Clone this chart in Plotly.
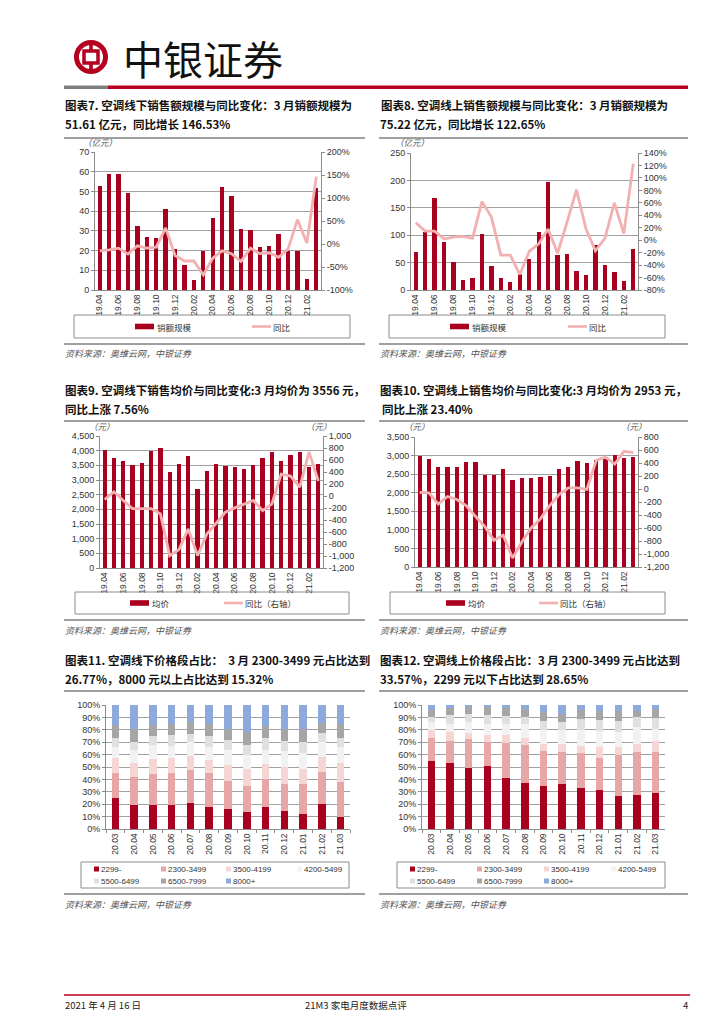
import plotly.graph_objects as go

W, H = 724, 1024
RED = "#a8001e"
PINK = "#f2b0b0"
GRID = "#a0a0a0"
AXIS = "#8c8c8c"
TXT = "#333333"
CJK = "Noto Sans CJK SC"
LAT = "Liberation Sans"

# ---------------- data ----------------
months24 = ["19.04", "19.05", "19.06", "19.07", "19.08", "19.09", "19.10", "19.11", "19.12",
            "20.01", "20.02", "20.03", "20.04", "20.05", "20.06", "20.07", "20.08", "20.09",
            "20.10", "20.11", "20.12", "21.01", "21.02", "21.03"]
months13 = ["20.03", "20.04", "20.05", "20.06", "20.07", "20.08", "20.09", "20.10", "20.11",
            "20.12", "21.01", "21.02", "21.03"]

offline_sales = [52.6, 58.7, 58.7, 49.1, 32.4, 26.8, 26.3, 40.9, 20.7, 12.7, 5.3, 20.0,
                 36.5, 52.1, 47.7, 31.1, 30.2, 21.9, 22.1, 28.5, 19.7, 19.9, 5.8, 51.61]
offline_sales_yoy = [-15, -13, -9, -22, -4, -9, -7, 35, -25, -37, -37, -67,
                     -31, -15, -21, -38, -9, -21, -19, -29, -11, 53, 2, 146.53]

online_sales = [70, 105, 167, 88, 51, 19, 22.5, 103, 44, 21, 15, 29,
                57, 105, 198, 64, 65, 34, 27, 82, 45, 33, 16.5, 75.22]
online_sales_yoy = [28, 14.5, 14.5, 2, 5, 6, 3, 62, 37, -24, -24, -55,
                    -18, -6, 18, -21, 29, 81, 18, -17, 3, 60, 10.5, 122.65]

offline_price = [4020, 3750, 3650, 3510, 3570, 3980, 4080, 3280, 3530, 3820, 2710, 3310,
                 3550, 3480, 3460, 3370, 3500, 3740, 3940, 3650, 3840, 3940, 3440, 3556]
offline_price_yoy = [-58, 70, -75, -209, -209, -209, -298, -994, -894, -549, -994, -632,
                     -454, -270, -198, -142, -75, -242, -131, 365, 331, 148, 733, 250]

online_price = [3000, 2910, 2700, 2700, 2690, 2820, 2820, 2470, 2470, 2640, 2355, 2400,
                2400, 2435, 2460, 2630, 2700, 2845, 2810, 2875, 2910, 3020, 2930, 2953]
online_price_yoy = [-53, -59, -233, -115, -161, -254, -419, -573, -789, -712, -1062, -815,
                    -599, -460, -254, -85, 18, 18, -7, 440, 491, 383, 579, 560]

segments = ["2299-", "2300-3499", "3500-4199", "4200-5499", "5500-6499", "6500-7999", "8000+"]
seg_colors = ["#a8001e", "#e8a7a7", "#f6d5d5", "#f2f2f2", "#e0e0e0", "#a6a6a6", "#8eaadc"]

off_2299 = [25, 19.5, 19, 19.5, 21, 18, 16, 13.5, 18, 14.5, 12.5, 20.5, 9.7]
off_2300 = [20, 22.5, 25.5, 26, 26.5, 27, 23, 21.5, 22, 22, 24, 25.5, 28]
off_3500 = [12, 11.5, 12, 11.5, 11, 10.5, 13, 13.5, 12.5, 13.5, 12, 12, 15.8]
off_4200 = [9, 10.5, 11.5, 10, 11.5, 10.5, 12, 11.5, 11.5, 13, 12.5, 12, 12.5]
off_5500 = [7, 6.5, 7, 8.5, 7, 9, 7.5, 8, 9, 8, 9, 7.5, 7.5]
off_6500 = [10.5, 10.5, 9, 9, 9, 10, 9.5, 10.5, 10, 10, 11, 8, 11.2]
off_8000 = [16.5, 19, 16, 15.5, 14, 15, 19, 21.5, 17, 19, 19, 14.5, 15.32]

on_2299 = [55, 53.5, 49.5, 50.5, 41.5, 37.5, 34.5, 36.5, 33, 31.5, 27, 27.5, 28.65]
on_2300 = [18.5, 17.5, 23, 20, 27.5, 30.5, 28.5, 25.5, 28, 26, 33, 34.5, 33.57]
on_3500 = [6, 7, 5, 5, 6.5, 5.5, 5.5, 6.5, 6, 8.5, 6.5, 6.5, 8.8]
on_4200 = [6.5, 7, 8.5, 9.5, 9.5, 11, 11.5, 11.5, 13, 13, 12, 13.5, 10]
on_5500 = [4.5, 7, 6.5, 7, 6, 6, 7, 6, 8.5, 9, 9, 8, 8.5]
on_6500 = [5.5, 5.5, 5.5, 6.5, 6.5, 6, 7, 7, 7.5, 7.5, 7.5, 5.5, 7]
on_8000 = [4, 2.5, 2, 1.5, 2.5, 3.5, 6, 7, 4, 4.5, 5, 4.5, 3.5]

# tick labels
c7_left = [0, 10, 20, 30, 40, 50, 60, 70]
c7_right = [-100, -50, 0, 50, 100, 150, 200]
c7_right_text = ["-100%", "-50%", "0%", "50%", "100%", "150%", "200%"]
c8_left = [0, 50, 100, 150, 200, 250]
c8_right = [-80, -60, -40, -20, 0, 20, 40, 60, 80, 100, 120, 140]
c8_right_text = ["-80%", "-60%", "-40%", "-20%", "0%", "20%", "40%", "60%", "80%", "100%", "120%", "140%"]
c9_left = [0, 500, 1000, 1500, 2000, 2500, 3000, 3500, 4000, 4500]
c9_left_text = ["0", "500", "1,000", "1,500", "2,000", "2,500", "3,000", "3,500", "4,000", "4,500"]
c9_right = [-1200, -1000, -800, -600, -400, -200, 0, 200, 400, 600, 800, 1000]
c9_right_text = ["-1,200", "-1,000", "-800", "-600", "-400", "-200", "0", "200", "400", "600", "800", "1,000"]
c10_left = [0, 500, 1000, 1500, 2000, 2500, 3000, 3500]
c10_left_text = ["0", "500", "1,000", "1,500", "2,000", "2,500", "3,000", "3,500"]
c10_right = [-1200, -1000, -800, -600, -400, -200, 0, 200, 400, 600, 800]
c10_right_text = ["-1,200", "-1,000", "-800", "-600", "-400", "-200", "0", "200", "400", "600", "800"]
pct_ticks = [0, 10, 20, 30, 40, 50, 60, 70, 80, 90, 100]
pct_text = ["0%", "10%", "20%", "30%", "40%", "50%", "60%", "70%", "80%", "90%", "100%"]

# ---------------- helpers ----------------
fig = go.Figure()
layout = {}


def dx(a, b):
    return [a / W, b / W]


def dy(top, bot):
    return [1 - bot / H, 1 - top / H]


def key(prefix, n):
    return prefix if n == 1 else f"{prefix}{n}"


tickfont = dict(family=LAT, size=9, color=TXT)


def combo(n, bars, line, xr, yr, lt, ltxt, lrange, rt, rtxt, rrange, bname, lname):
    xa = key("x", n)
    yl = key("y", 2 * n - 1)
    yrr = key("y", 2 * n)
    fig.add_trace(go.Bar(x=months24, y=bars, xaxis=xa, yaxis=yl, name=bname,
                         marker=dict(color=RED, line=dict(width=0)), width=0.46))
    fig.add_trace(go.Scatter(x=months24, y=line, xaxis=xa, yaxis=yrr, name=lname,
                             mode="lines", line=dict(color=PINK, width=2.8)))
    layout[key("xaxis", n)] = dict(domain=dx(*xr), anchor=yl, type="category",
                                   range=[-0.5, 23.5], tickmode="array",
                                   tickvals=months24[::2], ticktext=months24[::2],
                                   tickangle=-90, tickfont=dict(family=LAT, size=8.5, color=TXT),
                                   showline=True, linecolor=AXIS, linewidth=1,
                                   showgrid=False, ticks="", automargin=False, fixedrange=True)
    layout[key("yaxis", 2 * n - 1)] = dict(domain=dy(*yr), anchor=xa, range=lrange,
                                           tickmode="array", tickvals=lt, ticktext=ltxt,
                                           showgrid=True, gridcolor=GRID, gridwidth=0.8,
                                           showline=True, linecolor=AXIS, linewidth=1,
                                           ticks="outside", ticklen=3, tickcolor=AXIS,
                                           tickfont=tickfont, zeroline=False,
                                           automargin=False, fixedrange=True)
    layout[key("yaxis", 2 * n)] = dict(overlaying=yl, anchor=xa, side="right", range=rrange,
                                       tickmode="array", tickvals=rt, ticktext=rtxt,
                                       showgrid=False, showline=True, linecolor=AXIS,
                                       linewidth=1, ticks="outside", ticklen=3,
                                       tickcolor=AXIS, tickfont=tickfont, zeroline=False,
                                       automargin=False, fixedrange=True)


def stacked(n, yidx, series, xr, yr):
    xa = key("x", n)
    ya = key("y", yidx)
    for name, vals, col in zip(segments, series, seg_colors):
        fig.add_trace(go.Bar(x=months13, y=vals, xaxis=xa, yaxis=ya, name=name,
                             marker=dict(color=col, line=dict(width=0)), width=0.4))
    layout[key("xaxis", n)] = dict(domain=dx(*xr), anchor=ya, type="category",
                                   range=[-0.5, 12.5], tickangle=-90,
                                   tickfont=dict(family=LAT, size=8.5, color=TXT),
                                   showline=True, linecolor=AXIS, linewidth=1,
                                   ticks="outside", tickson="boundaries", ticklen=3,
                                   tickcolor=AXIS, showgrid=False,
                                   automargin=False, fixedrange=True)
    layout[key("yaxis", yidx)] = dict(domain=dy(*yr), anchor=xa, range=[0, 100],
                                      tickmode="array", tickvals=pct_ticks, ticktext=pct_text,
                                      showgrid=True, gridcolor=GRID, gridwidth=0.8,
                                      showline=True, linecolor=AXIS, linewidth=1,
                                      ticks="outside", ticklen=3, tickcolor=AXIS,
                                      tickfont=tickfont, zeroline=False,
                                      automargin=False, fixedrange=True)


def rect(x0, y0, x1, y1, fill=None, line=None, lw=0):
    fig.add_shape(type="rect", xref="paper", yref="paper", x0=x0 / W, x1=x1 / W,
                  y0=1 - y1 / H, y1=1 - y0 / H, fillcolor=fill,
                  line=dict(color=line if line else "rgba(0,0,0,0)", width=lw), layer="above")


def hline(x0, x1, y, color, w):
    fig.add_shape(type="line", xref="paper", yref="paper", x0=x0 / W, x1=x1 / W,
                  y0=1 - y / H, y1=1 - y / H, line=dict(color=color, width=w), layer="above")


def text(x, y, s, size, color=TXT, xanchor="left", bold=False, italic=False, family=CJK):
    fig.add_annotation(x=x / W, y=1 - y / H, xref="paper", yref="paper", text=s,
                       showarrow=False, xanchor=xanchor, yanchor="middle", borderpad=0,
                       font=dict(family=family, size=size, color=color,
                                 weight="bold" if bold else "normal",
                                 style="italic" if italic else "normal"))


# ---------------- charts ----------------
combo(1, offline_sales, offline_sales_yoy, (87, 313), (144, 282), c7_left,
      [str(v) for v in c7_left], [0, 70], c7_right, c7_right_text, [-100, 200], "销额规模", "同比")
combo(2, online_sales, online_sales_yoy, (403, 630), (145, 282), c8_left,
      [str(v) for v in c8_left], [0, 250], c8_right, c8_right_text, [-80, 140], "销额规模", "同比")
combo(3, offline_price, offline_price_yoy, (92, 315), (428, 560), c9_left, c9_left_text,
      [0, 4500], c9_right, c9_right_text, [-1200, 1000], "均价", "同比（右轴）")
combo(4, online_price, online_price_yoy, (407, 630), (429, 559), c10_left, c10_left_text,
      [0, 3500], c10_right, c10_right_text, [-1200, 800], "均价", "同比（右轴）")
stacked(5, 9, [off_2299, off_2300, off_3500, off_4200, off_5500, off_6500, off_8000],
        (98, 342), (697, 821))
stacked(6, 10, [on_2299, on_2300, on_3500, on_4200, on_5500, on_6500, on_8000],
        (414, 657), (697, 821))

# ---------------- header ----------------
cx, cy, r = 83, 49, 17
fig.add_shape(type="circle", xref="paper", yref="paper", x0=(cx - r + 2.5) / W,
              x1=(cx + r - 2.5) / W, y0=1 - (cy + r - 2.5) / H, y1=1 - (cy - r + 2.5) / H,
              line=dict(color="#b5001f", width=5), layer="above")
rect(cx - 7, cy - 6, cx + 7, cy + 6, None, "#b5001f", 3.5)
rect(cx - 1.8, cy - r + 1, cx + 1.8, cy - 6, "#b5001f")
rect(cx - 1.8, cy + 6, cx + 1.8, cy + r - 1, "#b5001f")
text(114, 50, "中银证券", 40, color="#111111")
rect(56, 77.5, 100, 81, "#7f7f7f")
rect(100, 77.5, 680, 81, "#b5001f")

# ---------------- titles ----------------
TS = 11.5
text(56, 97, "图表7. 空调线下销售额规模与同比变化：3 月销额规模为", TS, "#111", bold=True)
text(56, 116, "51.61 亿元，同比增长 146.53%", TS, "#111", bold=True)
text(372, 97, "图表8. 空调线上销售额规模与同比变化：3 月销额规模为", TS, "#111", bold=True)
text(371, 116, "75.22 亿元，同比增长 122.65%", TS, "#111", bold=True)
text(56, 382, "图表9. 空调线下销售均价与同比变化:3 月均价为 3556 元，", TS, "#111", bold=True)
text(56, 401, "同比上涨 7.56%", TS, "#111", bold=True)
text(371, 382, "图表10. 空调线上销售均价与同比变化:3 月均价为 2953 元，", TS, "#111", bold=True)
text(373, 401, "同比上涨 23.40%", TS, "#111", bold=True)
text(56, 652, "图表11. 空调线下价格段占比：  3 月 2300-3499 元占比达到", TS, "#111", bold=True)
text(56, 671, "26.77%，8000 元以上占比达到 15.32%", TS, "#111", bold=True)
text(371, 652, "图表12. 空调线上价格段占比：3 月 2300-3499 元占比达到", TS, "#111", bold=True)
text(371, 671, "33.57%，2299 元以下占比达到 28.65%", TS, "#111", bold=True)
for y in (130, 413, 683):
    hline(56, 357, y, "#7f7f7f", 1.5)
    hline(371, 680, y, "#7f7f7f", 1.5)

# unit labels
text(92, 134, "（亿元）", 8.5, "#555", xanchor="center", italic=True)
text(404, 134, "（亿元）", 8.5, "#555", xanchor="center", italic=True)
text(94, 418, "（元）", 8.5, "#555", xanchor="center", italic=True)
text(311, 418, "（元）", 8.5, "#555", xanchor="center", italic=True)
text(409, 418, "（元）", 8.5, "#555", xanchor="center", italic=True)
text(626, 418, "（元）", 8.5, "#555", xanchor="center", italic=True)

# ---------------- legends ----------------
def combo_legend(bx0, bx1, by0, by1, sw0, lw0, bname, lname):
    rect(bx0, by0, bx1, by1, None, "#8c8c8c", 1)
    yc = (by0 + by1) / 2
    rect(sw0, yc - 2.8, sw0 + 19, yc + 2.8, RED)
    text(sw0 + 21, yc, bname, 8.5, TXT)
    hline(lw0, lw0 + 19, yc, PINK, 2.6)
    text(lw0 + 20, yc, lname, 8.5, TXT)


combo_legend(66, 342, 307, 330, 127, 244, "销额规模", "同比")
combo_legend(381, 657, 307, 330, 442, 560, "销额规模", "同比")
combo_legend(67, 341, 584, 606, 122, 216, "均价", "同比（右轴）")
combo_legend(382, 657, 584, 606, 438, 531, "均价", "同比（右轴）")


def stack_legend(bx0, bx1, by0, by1, cols):
    rect(bx0, by0, bx1, by1, None, "#8c8c8c", 1)
    rows = [861, 873]
    for i, (name, col) in enumerate(zip(segments, seg_colors)):
        rr, cc = divmod(i, 4)
        x = cols[cc]
        y = rows[rr]
        rect(x, y - 2.5, x + 5, y + 2.5, col)
        text(x + 6, y, name, 8, TXT, family=LAT)


stack_legend(73, 341, 854, 880, [86, 153, 218, 289])
stack_legend(389, 657, 854, 880, [402, 469, 536, 603])

# ---------------- sources ----------------
for y_line, y_txt in ((336, 345), (612, 622), (886, 896)):
    hline(56, 357, y_line, "#7f7f7f", 1.5)
    hline(371, 680, y_line, "#7f7f7f", 1.5)
    text(56, y_txt, "资料来源：奥维云网，中银证券", 9, "#555", italic=True)
    text(371, y_txt, "资料来源：奥维云网，中银证券", 9, "#555", italic=True)

# ---------------- footer ----------------
hline(56, 682, 987, "#b5001f", 1.5)
text(56, 997, "2021 年 4 月 16 日", 9.5, "#222")
text(296, 997, "21M3 家电月度数据点评", 9.5, "#222")
text(681, 997, "4", 9.5, "#222", xanchor="right")

fig.update_layout(width=W, height=H, margin=dict(l=0, r=0, t=0, b=0),
                  paper_bgcolor="white", plot_bgcolor="white", showlegend=False,
                  barmode="stack", bargap=0.5,
                  font=dict(family=f"{LAT}, {CJK}", size=9, color=TXT), **layout)

fig.write_html("out.html")
